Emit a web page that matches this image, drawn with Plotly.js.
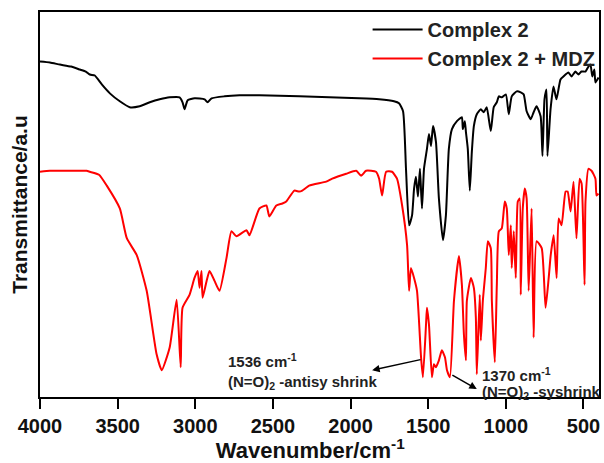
<!DOCTYPE html>
<html>
<head>
<meta charset="utf-8">
<script src="https://cdn.plot.ly/plotly-3.0.1.min.js"></script>
<style>html,body{margin:0;padding:0;background:#fff;}#chart{width:604px;height:463px;}</style>
</head>
<body>
<div id="chart"></div>
<script>
// Complex 2 (black) — wavenumber (cm-1) and transmittance (a.u.)
var complexWn = [4000,3936,3872,3800,3743,3705,3679,3647,3602,3550,3486,3422,3358,3293,3229,3165,3101,3082,3069,3049,3004,2940,2921,2895,2812,2715,2587,2330,2137,1945,1816,1720,1688,1662,1643,1623,1604,1591,1579,1566,1553,1540,1527,1508,1495,1482,1469,1450,1431,1405,1386,1367,1347,1315,1283,1277,1264,1257,1245,1232,1219,1206,1187,1161,1142,1123,1097,1078,1058,1045,1026,1000,981,962,930,904,885,866,840,821,802,776,764,751,738,732,712,693,674,648,629,597,577,552,532,513,487,468,455,443,430,423,410,403];
var complexT  = [338,337,335,333,330,328,325,324,315,306,298,292,293,297,300,302,302,297,290,299,301,300,297,301,303,304,304,303,302,301,300,298,296,288,230,173,183,210,222,202,230,190,230,250,265,253,273,257,200,158,183,250,270,278,282,270,278,267,250,208,247,273,285,290,287,292,268,292,297,303,302,305,285,303,308,307,305,288,280,287,293,283,243,300,310,243,290,313,300,320,323,327,323,328,325,328,328,333,335,323,330,317,320,322];

// Complex 2 + MDZ (red)
var mdzWn = [4000,3936,3872,3800,3700,3679,3620,3570,3486,3441,3377,3313,3249,3216,3165,3120,3094,3082,3037,3005,2985,2972,2960,2953,2927,2908,2876,2844,2799,2767,2735,2670,2651,2587,2542,2523,2478,2439,2414,2362,2330,2311,2266,2157,2118,2028,1964,1932,1900,1836,1816,1797,1771,1733,1701,1668,1636,1623,1611,1591,1572,1546,1534,1514,1508,1495,1476,1463,1450,1431,1412,1392,1379,1360,1334,1302,1283,1270,1257,1251,1225,1206,1193,1187,1168,1161,1148,1129,1116,1097,1090,1071,1058,1045,1026,1007,994,981,968,962,949,936,923,911,904,891,878,866,853,834,821,802,769,744,724,711,692,673,660,641,615,602,583,564,545,525,512,493,487,468,448,423,416,403];
var mdzT  = [227,228,228,228,228,227,224,213,190,160,143,107,43,27,50,98,30,90,103,120,127,110,127,100,117,127,117,107,140,167,162,168,163,190,193,182,193,195,197,208,207,208,213,217,220,225,228,223,228,227,220,203,227,227,220,193,153,107,130,120,107,40,20,73,90,73,20,33,30,37,47,40,27,20,97,142,113,63,37,97,120,110,80,23,103,57,97,130,157,150,97,35,113,167,170,197,190,143,173,130,167,120,197,200,103,190,210,200,107,190,60,157,150,90,120,143,163,120,180,173,207,207,187,217,160,220,215,113,197,230,228,220,203,205];

var xTicks = [4000,3500,3000,2500,2000,1500,1000,500];
var seriesNames = ['Complex 2','Complex 2 + MDZ'];

var FONT = 'Liberation Sans, Arial, sans-serif';

var traces = [
  {x: complexWn, y: complexT, name: seriesNames[0], type: 'scatter', mode: 'lines',
   line: {color: '#000000', width: 2, shape: 'spline', smoothing: 0.5}},
  {x: mdzWn, y: mdzT, name: seriesNames[1], type: 'scatter', mode: 'lines',
   line: {color: '#ff0000', width: 2, shape: 'spline', smoothing: 0.5}}
];

var layout = {
  width: 604, height: 463,
  margin: {l: 40, r: 4, t: 12, b: 66},
  paper_bgcolor: '#ffffff', plot_bgcolor: '#ffffff',
  showlegend: true,
  legend: {x: 0.585, y: 1.005, xanchor: 'left', yanchor: 'top', bgcolor: 'rgba(0,0,0,0)',
           font: {family: FONT, size: 20, color: '#222', weight: 'bold'}, itemwidth: 50, tracegroupgap: 0},
  xaxis: {
    range: [4000, 400], tickvals: xTicks, ticktext: xTicks.map(String),
    ticks: 'outside', ticklen: 10, tickwidth: 2, tickcolor: '#000',
    showline: true, linewidth: 2, linecolor: '#000', mirror: true,
    showgrid: false, zeroline: false,
    tickfont: {family: FONT, size: 20, color: '#111', weight: 'bold'},
    title: {text: 'Wavenumber/cm<sup>-1</sup>&nbsp;&nbsp;&nbsp;', font: {family: FONT, size: 22, color: '#111', weight: 'bold'}, standoff: 4}
  },
  yaxis: {
    range: [0, 388], showticklabels: false, ticks: '',
    showline: true, linewidth: 2, linecolor: '#000', mirror: true,
    showgrid: false, zeroline: false,
    title: {text: 'Transmittance/a.u', font: {family: FONT, size: 21, color: '#111', weight: 'bold'}, standoff: 5}
  },
  annotations: [
    {x: 1861, y: 27, ax: 1540, ay: 38, xref: 'x', yref: 'y', axref: 'x', ayref: 'y',
     text: '', showarrow: true, arrowhead: 2, arrowsize: 1, arrowwidth: 1.5, arrowcolor: '#000'},
    {x: 1187, y: 8, ax: 1354, ay: 23, xref: 'x', yref: 'y', axref: 'x', ayref: 'y',
     text: '', showarrow: true, arrowhead: 2, arrowsize: 1, arrowwidth: 1.5, arrowcolor: '#000'},
    {x: 2805, y: 37, xref: 'x', yref: 'y', xanchor: 'left', yanchor: 'middle', showarrow: false,
     text: '1536 cm<sup>-1</sup>', font: {family: FONT, size: 15, color: '#222', weight: 'bold'}},
    {x: 2805, y: 15, xref: 'x', yref: 'y', xanchor: 'left', yanchor: 'middle', showarrow: false,
     text: '(N=O)<sub>2</sub> -antisy shrink', font: {family: FONT, size: 15, color: '#222', weight: 'bold'}},
    {x: 1168, y: 23, xref: 'x', yref: 'y', xanchor: 'left', yanchor: 'middle', showarrow: false,
     text: '1370 cm<sup>-1</sup>', font: {family: FONT, size: 15, color: '#222', weight: 'bold'}},
    {x: 1168, y: 5, xref: 'x', yref: 'y', xanchor: 'left', yanchor: 'middle', showarrow: false,
     text: '(N=O)<sub>2</sub> -syshrink', font: {family: FONT, size: 15, color: '#222', weight: 'bold'}}
  ]
};

Plotly.newPlot('chart', traces, layout, {staticPlot: true, displayModeBar: false});
</script>
</body>
</html>
